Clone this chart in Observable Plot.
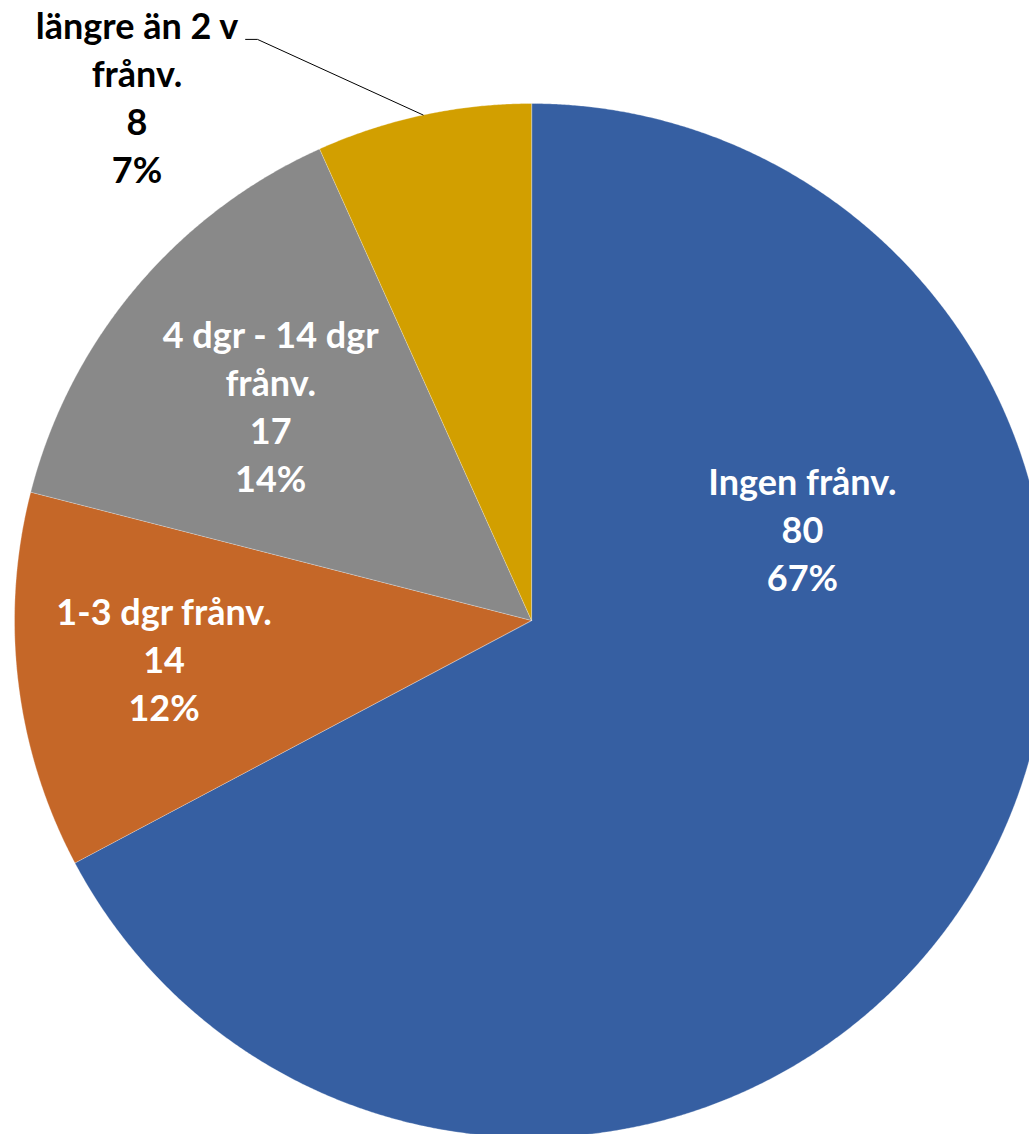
<!DOCTYPE html>
<html>
<head>
<meta charset="utf-8">
<script src="https://cdn.jsdelivr.net/npm/d3@7"></script>
<script src="https://cdn.jsdelivr.net/npm/@observablehq/plot@0.6"></script>
<style>
  html, body { margin: 0; padding: 0; background: #ffffff; overflow: hidden; }
  #chart svg { display: block; }
</style>
</head>
<body>
<div id="chart"></div>
<script>
// ---- data ----
const categories = ["Ingen frånv.", "1-3 dgr frånv.", "4 dgr - 14 dgr frånv.", "längre än 2 v frånv."];
const values = [80, 14, 17, 8];
const labelNames = ["Ingen frånv.", "1-3 dgr frånv.", "4 dgr - 14 dgr\nfrånv.", "längre än 2 v\nfrånv."];
const percentLabels = ["67%", "12%", "14%", "7%"];
const colors = ["#365FA2", "#C56728", "#898989", "#D29F00"];

// ---- layout (not data) ----
const W = 1029, H = 1134;
const cx = 531, cy = 620, R = 517;
// label placement: angle (deg, clockwise from 12 o'clock) and radius (fraction of R)
const labelPlacement = [
  { angle: 71.7, radius: 0.552, inside: true },
  { angle: 263.8, radius: 0.715, inside: true },
  { angle: 309.2, radius: 0.651, inside: true },
  { angle: 322.9, radius: 1.265, inside: false }
];
// leader line for the outside label: elbow and end (in radius units)
const leaderElbow = { x: -0.530, y: 1.124 };
const leaderEnd = { x: -0.553, y: 1.124 };

const data = categories.map((c, i) => ({ category: c, value: values[i] }));
const arcs = d3.pie().sort(null).value(d => d.value)(data);

// polygon points for each slice, computed from the pie angles
const slicePoints = arcs.flatMap(a => {
  const n = Math.max(2, Math.ceil((a.endAngle - a.startAngle) / 0.004));
  const pts = [{ x: 0, y: 0, category: a.data.category }];
  for (let i = 0; i <= n; i++) {
    const t = a.startAngle + (a.endAngle - a.startAngle) * i / n;
    pts.push({ x: Math.sin(t), y: Math.cos(t), category: a.data.category });
  }
  return pts;
});

const labels = arcs.map((a, i) => {
  const p = labelPlacement[i];
  const t = p.angle * Math.PI / 180;
  return {
    x: p.radius * Math.sin(t),
    y: p.radius * Math.cos(t),
    inside: p.inside,
    text: `${labelNames[i]}\n${a.data.value}\n${percentLabels[i]}`
  };
});

const outside = arcs[3];
const mid = (outside.startAngle + outside.endAngle) / 2;
const leader = [
  { x: Math.sin(mid), y: Math.cos(mid) },
  leaderElbow,
  leaderEnd
];

const textStyle = {
  x: "x", y: "y", text: "text", dy: -3,
  fontFamily: "Lato", fontWeight: "bold", fontSize: 36,
  lineHeight: 1.335, lineAnchor: "middle", textAnchor: "middle"
};

const chart = Plot.plot({
  width: W,
  height: H,
  margin: 0,
  style: { background: "#ffffff", overflow: "hidden" },
  x: { domain: [-1, 1], range: [cx - R, cx + R], axis: null },
  y: { domain: [-1, 1], range: [cy + R, cy - R], axis: null },
  color: { domain: categories, range: colors },
  marks: [
    Plot.line(slicePoints, {
      x: "x", y: "y", z: "category", fill: "category",
      stroke: "#ffffff", strokeWidth: 0.6, strokeOpacity: 0.5, curve: "linear-closed"
    }),
    Plot.line(leader, { x: "x", y: "y", stroke: "#000000", strokeWidth: 1 }),
    Plot.text(labels.filter(d => d.inside), { ...textStyle, fill: "#ffffff" }),
    Plot.text(labels.filter(d => !d.inside), { ...textStyle, fill: "#000000" })
  ]
});

document.getElementById("chart").appendChild(chart);
</script>
</body>
</html>
